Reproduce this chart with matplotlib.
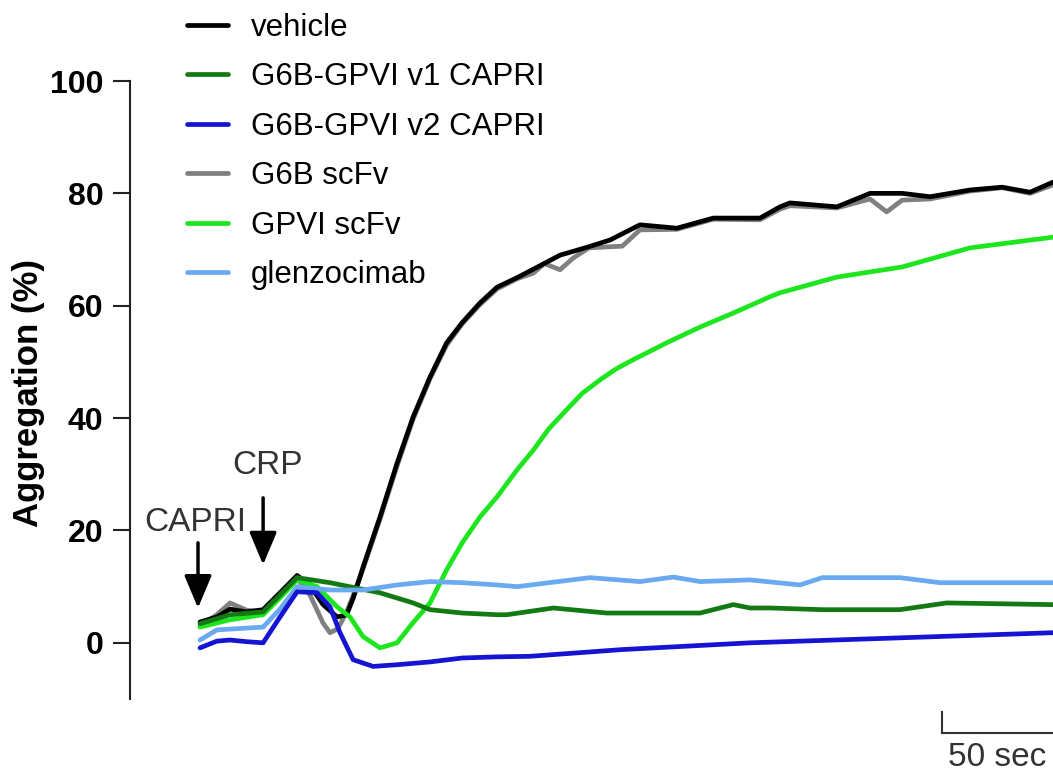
import matplotlib
matplotlib.use('Agg')
import matplotlib.pyplot as plt

plt.rcParams['font.family'] = ['Liberation Sans', 'DejaVu Sans']

# time in seconds after CAPRI addition, aggregation in %
vehicle_t = [0, 7.6, 13.5, 21, 28.4, 36, 43.7, 49.5, 55.4, 61.7, 66, 69, 73.4, 81, 88.7,
             95.9, 103.5, 111, 118, 126, 133.7, 142.7, 150, 162, 175, 184.5, 198, 214.6,
             231, 252, 261, 265.5, 286.6, 301.5, 316, 328.5, 346.5, 361, 373.5, 383.85]
vehicle_y = [3.7, 4.6, 6.0, 5.5, 5.9, 8.9, 12.0, 10.2, 6.8, 4.6, 5.0, 8.0, 13.5, 22.4, 32,
             40.2, 47.3, 53.4, 57, 60.5, 63.3, 65, 66.5, 69, 70.5, 71.7, 74.4, 73.8,
             75.6, 75.6, 77.6, 78.3, 77.6, 80, 80, 79.4, 80.6, 81.1, 80.2, 82]

g6b_t = [0, 7.6, 13.5, 21, 28.4, 36, 43.7, 49.5, 55.4, 58.5, 62, 66, 69, 73.4, 81, 88.7,
         95.9, 103.5, 111, 118, 126, 133.7, 142.7, 150, 155, 162, 168, 175, 184.5, 190,
         198, 214.6, 231, 252, 261, 265.5, 286.6, 301.5, 309, 316, 328.5, 346.5, 361,
         373.5, 383.85]
g6b_y = [3.0, 5.0, 7.1, 5.8, 5.5, 8.5, 11.5, 8.5, 3.5, 1.8, 2.5, 5.5, 8.5, 13.2, 22, 31.5,
         39.8, 47, 53, 56.8, 60.2, 63, 64.8, 65.8, 67.5, 66.4, 68.5, 70.3, 70.5, 70.6,
         73.5, 73.6, 75.4, 75.3, 77.2, 77.8, 77.4, 79, 76.7, 78.8, 79, 80.4, 81,
         80, 81.5]

v1_t = [0, 13.5, 28.4, 36, 43.7, 58.5, 81, 95.9, 103.5, 118, 133.7, 138, 159, 183, 225,
        240, 247.5, 256.5, 280, 315, 336, 383.85]
v1_y = [3.4, 5.0, 5.5, 8.5, 11.6, 10.7, 8.9, 7.1, 5.9, 5.3, 5.0, 5.0, 6.2, 5.3, 5.3,
        6.8, 6.2, 6.2, 5.9, 5.9, 7.1, 6.8]

v2_t = [0, 7.6, 13.5, 21, 28.4, 36, 43.7, 52.7, 58.5, 63, 68.9, 77.9, 88.7, 103.5, 118,
        133.7, 148.5, 190, 247.5, 316, 383.85]
v2_y = [-0.9, 0.3, 0.5, 0.2, 0, 4.6, 9.1, 8.9, 6.4, 1.8, -3.0, -4.2, -3.9, -3.4, -2.7,
        -2.5, -2.4, -1.2, 0, 0.9, 1.8]

gpvi_t = [0, 13.5, 28.4, 36, 43.7, 52.7, 61.7, 67.5, 73.4, 81, 88.7, 95.9, 103.5, 111,
          118, 126, 133.7, 142.7, 150, 157, 165, 172, 180, 187, 195, 210, 225, 240, 256.5,
          261, 286.6, 316, 346.5, 383.85]
gpvi_y = [2.8, 4.1, 5.0, 8.0, 11.2, 10, 6.4, 4.6, 1.1, -0.9, 0, 3.6, 7.1, 13, 17.8, 22.4,
          26, 30.8, 34.3, 38.1, 41.5, 44.4, 46.8, 48.7, 50.4, 53.4, 56.2, 58.7, 61.6, 62.3,
          65.1, 66.9, 70.3, 72.2]

glen_t = [0, 7.6, 28.4, 36, 43.7, 58.5, 73.4, 88.7, 103.5, 118, 133.7, 142.7, 175.5, 198,
          213, 225, 247.5, 270, 280, 315, 333, 383.85]
glen_y = [0.5, 2.3, 2.8, 6.0, 10, 9.4, 9.4, 10.3, 10.9, 10.7, 10.3, 10.0, 11.6, 10.9,
          11.7, 10.9, 11.2, 10.3, 11.6, 11.6, 10.7, 10.7]

series = [
    ('vehicle', vehicle_t, vehicle_y, '#000000'),
    ('G6B-GPVI v1 CAPRI', v1_t, v1_y, '#137a13'),
    ('G6B-GPVI v2 CAPRI', v2_t, v2_y, '#1414d2'),
    ('G6B scFv', g6b_t, g6b_y, '#808080'),
    ('GPVI scFv', gpvi_t, gpvi_y, '#1ee61e'),
    ('glenzocimab', glen_t, glen_y, '#6aaaf0'),
]
# drawing order: gray under black
draw_order = [3, 0, 4, 1, 5, 2]

fig = plt.figure(figsize=(10.53, 7.8), dpi=100)
ax = fig.add_axes([130 / 1053, 1 - 699 / 780, 1 - 130 / 1053, (699 - 81) / 780])

lines = {}
for i in draw_order:
    name, t, y, c = series[i]
    ln, = ax.plot(t, y, color=c, lw=3.4, label=name, solid_joinstyle='round',
                  solid_capstyle='round')
    lines[i] = ln

ax.set_xlim(-31.5, 383.85)
ax.set_ylim(-10, 100)
ax.set_yticks([0, 20, 40, 60, 80, 100])
ax.tick_params(axis='y', length=12, width=1.5, pad=7, labelsize=23,
               color='#222222')
for lab in ax.get_yticklabels():
    lab.set_fontweight('bold')
ax.set_xticks([])
for s in ['top', 'right', 'bottom']:
    ax.spines[s].set_visible(False)
ax.spines['left'].set_linewidth(1.5)
ax.spines['left'].set_color('#222222')

fig.text(29 / 1053, 1 - 393 / 780, 'Aggregation (%)', rotation=90, ha='center',
         va='center', fontsize=25, fontweight='bold')

# arrows for additions
ax.annotate('', xy=(-0.9, 6.2), xytext=(-0.9, 17.8),
            arrowprops=dict(arrowstyle='-|>,head_length=1.0,head_width=0.42',
                            mutation_scale=20, lw=2.5, color='black', shrinkA=0, shrinkB=0))
ax.annotate('', xy=(28.4, 13.9), xytext=(28.4, 25.8),
            arrowprops=dict(arrowstyle='-|>,head_length=1.0,head_width=0.42',
                            mutation_scale=20, lw=2.5, color='black', shrinkA=0, shrinkB=0))
ax.text(-2.25, 21.5, 'CAPRI', ha='center', va='center', fontsize=24, color='#333333')
ax.text(30.6, 31.5, 'CRP', ha='center', va='center', fontsize=24, color='#333333')

# scale bar 50 sec
bar_end = 383.85
ax.plot([bar_end - 50, bar_end], [-16, -16], color='#333333', lw=1.5, clip_on=False)
ax.plot([bar_end - 50, bar_end - 50], [-16, -12.4], color='#333333', lw=1.5, clip_on=False)
ax.text(bar_end - 25, -20.5, '50 sec', ha='center', va='center', fontsize=24,
        color='#333333', clip_on=False)

handles = [lines[i] for i in range(6)]
fig.legend(handles, [s[0] for s in series], loc='upper left',
           bbox_to_anchor=(187 / 1053, 1 - 13 / 780), bbox_transform=fig.transFigure,
           frameon=False, fontsize=22.5, handlelength=1.3, handletextpad=0.75,
           labelspacing=0.62, borderpad=0, borderaxespad=0)

fig.savefig('out.png', dpi=100)
